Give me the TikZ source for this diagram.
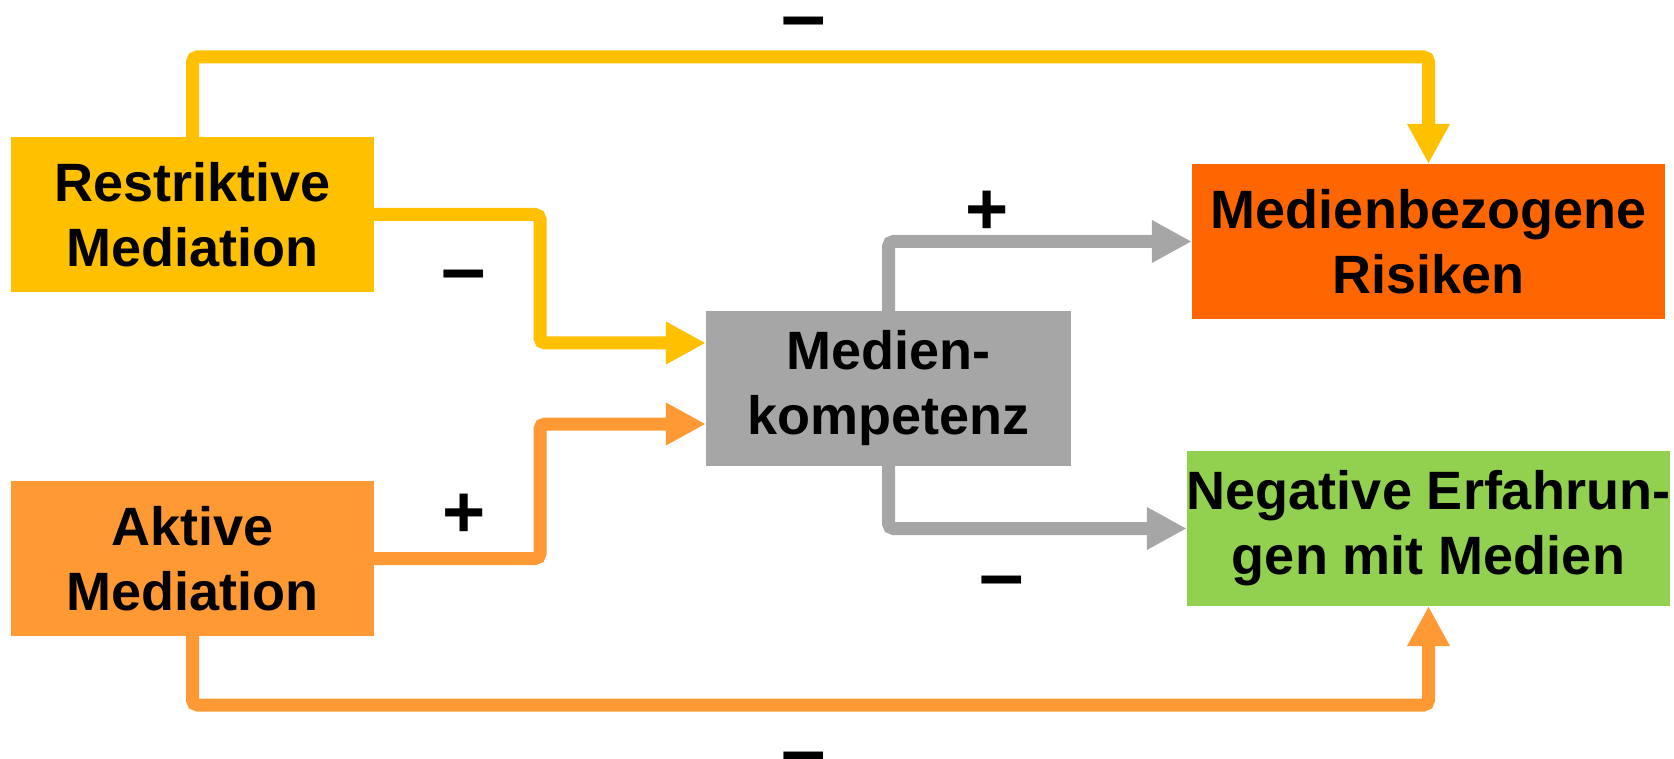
\documentclass[tikz,border=0pt]{standalone}
\usepackage{fontspec}
\setmainfont{Liberation Sans}
\usetikzlibrary{arrows.meta}
\definecolor{cyel}{HTML}{FFC000}
\definecolor{corg}{HTML}{FF9933}
\definecolor{cred}{HTML}{FF6600}
\definecolor{cgrn}{HTML}{92D050}
\definecolor{cgry}{HTML}{A6A6A6}
\begin{document}
\begin{tikzpicture}[x=1pt,y=-1pt,
  box/.style={rectangle, inner sep=0pt, align=center, text=black,
    font=\fontsize{54}{65}\selectfont\bfseries},
  conn/.style={line width=13pt, rounded corners=5pt,
    -{Triangle[length=40pt,width=40pt]}},
  sign/.style={inner sep=0pt, text=black, font=\fontsize{74}{80}\selectfont\bfseries},
  minussign/.style={inner sep=0pt, text=black, font=\fontsize{80}{86}\selectfont\bfseries}]
\useasboundingbox (0,0) rectangle (1674,759);
% boxes
\node[box, fill=cyel, minimum width=363pt, minimum height=155pt] (R) at (192.5,214.5) {Restriktive\\Mediation};
\node[box, fill=corg, minimum width=363pt, minimum height=155pt] (A) at (192.5,558.5) {Aktive\\Mediation};
\node[box, fill=cgry, minimum width=365pt, minimum height=155pt] (M) at (888.5,388.5) {Medien-\\kompetenz};
\node[box, fill=cred, minimum width=473pt, minimum height=155pt] (Ri) at (1428.5,241.5) {Medienbezogene\\Risiken};
\node[box, fill=cgrn, minimum width=473pt, minimum height=155pt] (N) at (1428.5,528.5) {Negative Erfahrun-\\gen mit Medien};
% connectors
\draw[conn, cyel] (R.north) -- (R.north |- 0,57) -- (Ri.north |- 0,57) -- (Ri.north);
\draw[conn, cyel] (R.east) -- (540,214.5) -- (540,343) -- (M.west |- 0,343);
\draw[conn, corg] (A.east) -- (540,558.5) -- (540,424) -- (M.west |- 0,424);
\draw[conn, corg] (A.south) -- (A.south |- 0,705) -- (N.south |- 0,705) -- (N.south);
\draw[conn, cgry] (M.north) -- (M.north |- Ri.west) -- (Ri.west);
\draw[conn, cgry] (M.south) -- (M.south |- N.west) -- (N.west);
% signs
\node[minussign] (s1) at (804,30) {–};
\node[minussign] (s2) at (464,283) {–};
\node[sign] (s3) at (987,213) {+};
\node[sign] (s4) at (464,516) {+};
\node[minussign] (s5) at (1002,589) {–};
\node[minussign] (s6) at (804,765) {–};
\end{tikzpicture}
\end{document}
